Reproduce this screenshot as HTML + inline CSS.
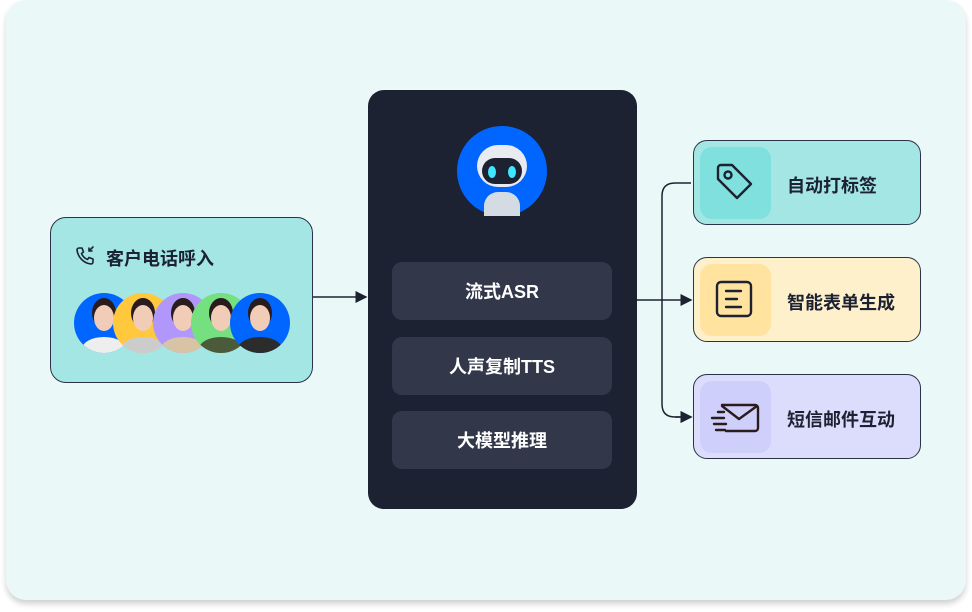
<!DOCTYPE html>
<html><head><meta charset="utf-8"><style>
body{margin:0;width:972px;height:612px;background:#fff;font-family:"Liberation Sans","Noto Sans CJK SC",sans-serif;position:relative;overflow:hidden}
.card{position:absolute;left:6px;top:0;width:960px;height:600px;background:#ebf8f8;border-radius:20px;box-shadow:0 4px 6px rgba(0,0,0,.18)}
.abs{position:absolute;box-sizing:border-box}
.left{left:50px;top:217px;width:263px;height:166px;background:#a3e6e3;border:1.5px solid #2a3347;border-radius:16px}
.panel{left:368px;top:90px;width:269px;height:419px;background:#1c2232;border-radius:16px}
.item{left:392px;width:220px;height:58px;background:#323849;border-radius:10px;color:#fff;font-size:18px;font-weight:bold;display:flex;align-items:center;justify-content:center}
.rb{left:693px;width:228px;height:85px;border:1.5px solid #2a3347;border-radius:14px}
.ic{left:700px;width:71px;height:72px;border-radius:12px}
.rt{left:787px;font-size:18px;font-weight:bold;color:#1c2232}
.av{position:absolute;top:293px;width:60px;height:60px;border-radius:50%;overflow:hidden}
.av i{position:absolute;left:20px;top:12px;width:20px;height:26px;border-radius:50%;background:#f1cdb8;box-shadow:0 -5px 0 2px #2a1c1c}
.av b{position:absolute;left:8px;top:44px;width:44px;height:24px;border-radius:50%;background:#2c2c2c}
</style></head><body>
<div class="card"></div>
<div class="abs left"></div>
<svg class="abs" style="left:74px;top:244px" width="24" height="24" viewBox="0 0 24 24" fill="none" stroke="#1c2232" stroke-width="1.6" stroke-linecap="round" stroke-linejoin="round"><path d="M5 4h3l1.5 4-2 1.5a11 11 0 0 0 6 6l1.5-2 4 1.5v3a2 2 0 0 1-2 2A16 16 0 0 1 3 6a2 2 0 0 1 2-2z"/><path d="M19 3l-4 4M15 4v3h3"/></svg>
<div class="abs" style="left:106px;top:245px;font-size:18px;font-weight:bold;color:#1c2232">客户电话呼入</div>
<div class="av" style="left:74px;background:#0066ff"><b style="background:#eee"></b><i></i></div>
<div class="av" style="left:113px;background:#ffc83d"><b style="background:#ccc"></b><i></i></div>
<div class="av" style="left:153px;background:#b197fc"><b style="background:#d8c3a5"></b><i></i></div>
<div class="av" style="left:191px;background:#74e07f"><b style="background:#4a5a3a"></b><i></i></div>
<div class="av" style="left:230px;background:#0066ff"><b></b><i></i></div>
<svg class="abs" style="left:0;top:0" width="972" height="612">
<defs><marker id="a" markerWidth="8" markerHeight="8" refX="7" refY="4" orient="auto"><path d="M0 0L8 4L0 8z" fill="#1c2232"/></marker></defs>
<g stroke="#1c2232" stroke-width="1.5" fill="none">
<path d="M313 297H366" marker-end="url(#a)"/>
<path d="M637 300H691" marker-end="url(#a)"/>
<path d="M691 183H675Q662 183 662 196V404Q662 417 675 417H691" marker-end="url(#a)"/>
<path d="M675 417H691" marker-end="url(#a)"/>
</g></svg>
<div class="abs panel"></div>
<div class="abs" style="left:457px;top:126px;width:90px;height:90px;border-radius:50%;background:#0066ff"></div>
<div class="abs" style="left:477px;top:145px;width:50px;height:42px;border-radius:22px;background:#e8ecf0"></div>
<div class="abs" style="left:482px;top:158px;width:40px;height:26px;border-radius:13px;background:#1c2232"></div>
<div class="abs" style="left:488px;top:166px;width:8px;height:12px;border-radius:50%;background:#3ee6ff"></div>
<div class="abs" style="left:508px;top:166px;width:8px;height:12px;border-radius:50%;background:#3ee6ff"></div>
<div class="abs" style="left:484px;top:192px;width:36px;height:24px;border-radius:14px 14px 0 0;background:#d5dbe2"></div>
<div class="abs item" style="top:262px">流式ASR</div>
<div class="abs item" style="top:337px">人声复制TTS</div>
<div class="abs item" style="top:411px">大模型推理</div>
<div class="abs rb" style="top:140px;background:#a3e6e3"></div>
<div class="abs ic" style="top:147px;background:#80e0dd"></div>
<div class="abs rb" style="top:257px;background:#fff0cc"></div>
<div class="abs ic" style="top:264px;background:#ffe39f"></div>
<div class="abs rb" style="top:374px;background:#dcdcfc"></div>
<div class="abs ic" style="top:381px;background:#cfcffc"></div>
<svg class="abs" style="left:714px;top:162px" width="42" height="42" viewBox="0 0 42 42" fill="none" stroke="#1c2232" stroke-width="2.4" stroke-linejoin="round"><path d="M4 6a3 3 0 0 1 3-3h11l19 19-14 14L4 17z"/><circle cx="14" cy="13" r="3.5"/></svg>
<svg class="abs" style="left:714px;top:279px" width="42" height="42" viewBox="0 0 42 42" fill="none" stroke="#1c2232" stroke-width="2.4" stroke-linecap="round"><rect x="3" y="3" width="34" height="34" rx="4"/><path d="M12 12h15M12 20h11M12 28h15"/></svg>
<svg class="abs" style="left:710px;top:398px" width="52" height="40" viewBox="0 0 52 40" fill="none" stroke="#2a1c1c" stroke-width="2.4" stroke-linecap="round" stroke-linejoin="round"><path d="M12 7h33a3 3 0 0 1 3 3v20a3 3 0 0 1-3 3H16M12 8l17 13 18-13M2 20h12M4 26h12M6 32h9M8 14h6"/></svg>
<div class="abs rt" style="top:172px">自动打标签</div>
<div class="abs rt" style="top:289px">智能表单生成</div>
<div class="abs rt" style="top:406px">短信邮件互动</div>
</body></html>
